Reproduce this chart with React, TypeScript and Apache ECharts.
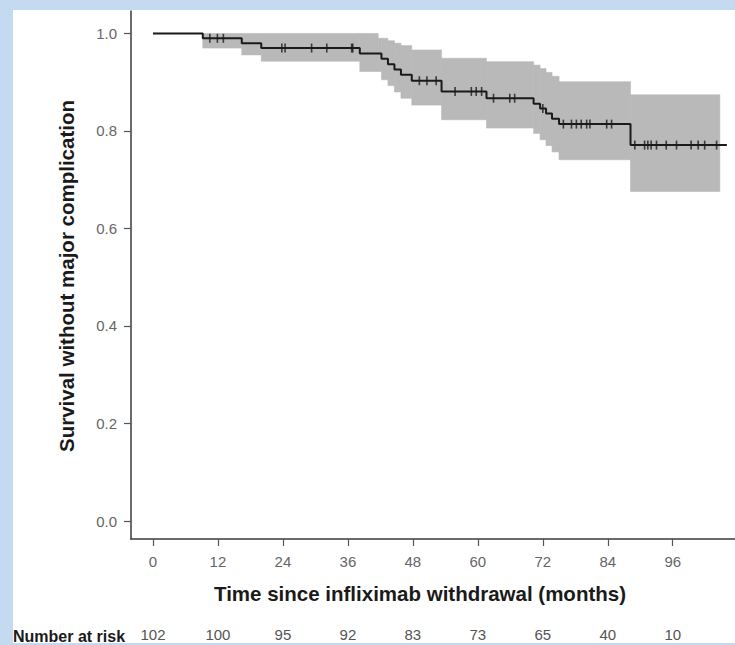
import React, { useEffect, useRef } from "react";
import * as echarts from "echarts";

// Kaplan-Meier step curve (time in months, survival)
const kmTimes = [0, 9.2, 16.4, 20.0, 38.2, 42.2, 43.4, 44.6, 45.8, 47.8, 53.3, 61.6, 70.3, 71.5, 72.6, 73.7, 75.0, 88.2, 106.0];
const kmSurv = [1.0, 0.99, 0.98, 0.97, 0.959, 0.948, 0.937, 0.926, 0.915, 0.903, 0.881, 0.867, 0.856, 0.846, 0.836, 0.825, 0.814, 0.771, 0.771];

// 95% confidence band (step starts; the last time closes the band)
const bandTimes = [0, 9.2, 16.4, 20.0, 38.2, 41.6, 42.2, 43.4, 44.6, 45.8, 47.8, 53.3, 61.6, 70.3, 71.5, 72.6, 73.7, 75.0, 88.2, 104.7];
const bandLower = [1.0, 0.97, 0.956, 0.943, 0.922, 0.922, 0.905, 0.893, 0.88, 0.867, 0.853, 0.823, 0.806, 0.795, 0.782, 0.77, 0.757, 0.741, 0.676, 0.676];
const bandUpper = [1.0, 1.0, 1.0, 1.0, 1.0, 0.99, 0.99, 0.985, 0.98, 0.975, 0.966, 0.949, 0.942, 0.935, 0.928, 0.92, 0.912, 0.901, 0.874, 0.874];

// Censored observations
const censorTimes = [10.5, 11.9, 13.0, 23.8, 24.4, 29.3, 32.1, 36.7, 36.9, 49.2, 50.6, 52.3, 55.8, 58.8, 59.7, 60.7, 62.9, 65.9, 66.8, 72.0, 75.8, 77.3, 78.2, 79.1, 80.1, 80.7, 83.8, 84.7, 89.0, 90.8, 91.4, 92.0, 93.0, 94.8, 96.7, 99.4, 100.7, 101.9, 104.1];
const censorSurv = [0.99, 0.99, 0.99, 0.97, 0.97, 0.97, 0.97, 0.97, 0.97, 0.903, 0.903, 0.903, 0.881, 0.881, 0.881, 0.881, 0.867, 0.867, 0.867, 0.846, 0.814, 0.814, 0.814, 0.814, 0.814, 0.814, 0.814, 0.814, 0.771, 0.771, 0.771, 0.771, 0.771, 0.771, 0.771, 0.771, 0.771, 0.771, 0.771];

const xTicks = [0, 12, 24, 36, 48, 60, 72, 84, 96];
const yTicks = [0, 0.2, 0.4, 0.6, 0.8, 1.0];
const atRisk = [102, 100, 95, 92, 83, 73, 65, 40, 10];

const FONT = "'Liberation Sans', Arial, Helvetica, sans-serif";
const BAND = "#b9b9b9";

export default function App() {
  const ref = useRef<HTMLDivElement>(null);

  useEffect(() => {
    if (!ref.current) return;
    const chart = echarts.init(ref.current, undefined, { renderer: "svg" });

    const pair = (xs: number[], ys: number[]) => xs.map((x, i) => [x, ys[i]]);
    const bandData = bandTimes.slice(0, -1).map((t, i) => [t, bandTimes[i + 1], bandLower[i], bandUpper[i]]);

    const option: any = {
      animation: false,
      backgroundColor: "transparent",
      grid: { left: 131, top: 11, right: 0, bottom: 106, containLabel: false },
      xAxis: [
        {
          type: "value",
          min: -4.06,
          max: 107.5,
          z: 10,
          splitLine: { show: false },
          axisLine: { show: true, onZero: false, lineStyle: { color: "#3a3a3a", width: 1.5 } },
          axisTick: { show: true, customValues: xTicks, length: 7, lineStyle: { color: "#555", width: 1.2 } },
          axisLabel: {
            customValues: xTicks,
            margin: 15,
            color: "#666",
            fontSize: 15,
            fontFamily: FONT,
          },
        },
        {
          type: "value",
          position: "bottom",
          offset: 82,
          min: -4.06,
          max: 107.5,
          splitLine: { show: false },
          axisLine: { show: false, onZero: false },
          axisTick: { show: false },
          axisLabel: {
            customValues: xTicks,
            margin: 6,
            color: "#555",
            fontSize: 15,
            fontFamily: FONT,
            formatter: (v: number) => {
              const i = xTicks.indexOf(v);
              return i >= 0 ? String(atRisk[i]) : "";
            },
          },
        },
      ],
      yAxis: {
        type: "value",
        min: -0.0369,
        max: 1.046,
        z: 10,
        splitLine: { show: false },
        axisLine: { show: true, onZero: false, lineStyle: { color: "#3a3a3a", width: 1.5 } },
        axisTick: { show: true, customValues: yTicks, length: 7, lineStyle: { color: "#555", width: 1.2 } },
        axisLabel: {
          customValues: yTicks,
          margin: 14,
          color: "#666",
          fontSize: 15,
          fontFamily: FONT,
          formatter: (v: number) => v.toFixed(1),
        },
      },
      graphic: [
        {
          type: "text",
          x: 66,
          y: 276,
          rotation: Math.PI / 2,
          style: {
            text: "Survival without major complication",
            fill: "#1a1a1a",
            font: `bold 20.5px ${FONT}`,
            align: "center",
            verticalAlign: "middle",
          },
        },
        {
          type: "text",
          x: 420,
          y: 593,
          style: {
            text: "Time since infliximab withdrawal (months)",
            fill: "#1a1a1a",
            font: `bold 20.5px ${FONT}`,
            align: "center",
            verticalAlign: "middle",
          },
        },
        {
          type: "text",
          x: 13,
          y: 636,
          style: {
            text: "Number at risk",
            fill: "#1a1a1a",
            font: `bold 16px ${FONT}`,
            align: "left",
            verticalAlign: "middle",
          },
        },
      ],
      series: [
        {
          type: "custom",
          name: "95% CI",
          xAxisIndex: 0,
          data: bandData,
          encode: { x: [0, 1], y: [2, 3] },
          silent: true,
          z: 1,
          renderItem: (params: any, api: any) => {
            const p0 = api.coord([api.value(0), api.value(3)]);
            const p1 = api.coord([api.value(1), api.value(2)]);
            return {
              type: "rect",
              shape: { x: p0[0], y: p0[1], width: p1[0] - p0[0], height: p1[1] - p0[1] },
              style: { fill: BAND, stroke: BAND, lineWidth: 0.6 },
            };
          },
        },
        {
          type: "line",
          name: "KM",
          xAxisIndex: 0,
          data: pair(kmTimes, kmSurv),
          step: "end",
          symbol: "none",
          lineStyle: { color: "#1a1a1a", width: 2 },
          silent: true,
          z: 3,
        },
        {
          type: "scatter",
          name: "censored",
          xAxisIndex: 0,
          data: pair(censorTimes, censorSurv),
          symbol: "rect",
          symbolSize: [1.6, 9],
          itemStyle: { color: "#1a1a1a" },
          silent: true,
          z: 4,
        },
      ],
    };

    chart.setOption(option);
    return () => chart.dispose();
  }, []);

  return (
    <div style={{ position: "fixed", left: 0, top: 0, width: 735, height: 645, background: "#c3daf0", overflow: "hidden" }}>
      <div style={{ position: "absolute", left: 13, top: 10, width: 722, height: 633, background: "#ffffff" }} />
      <div ref={ref} style={{ position: "absolute", left: 0, top: 0, width: 735, height: 645 }} />
    </div>
  );
}
